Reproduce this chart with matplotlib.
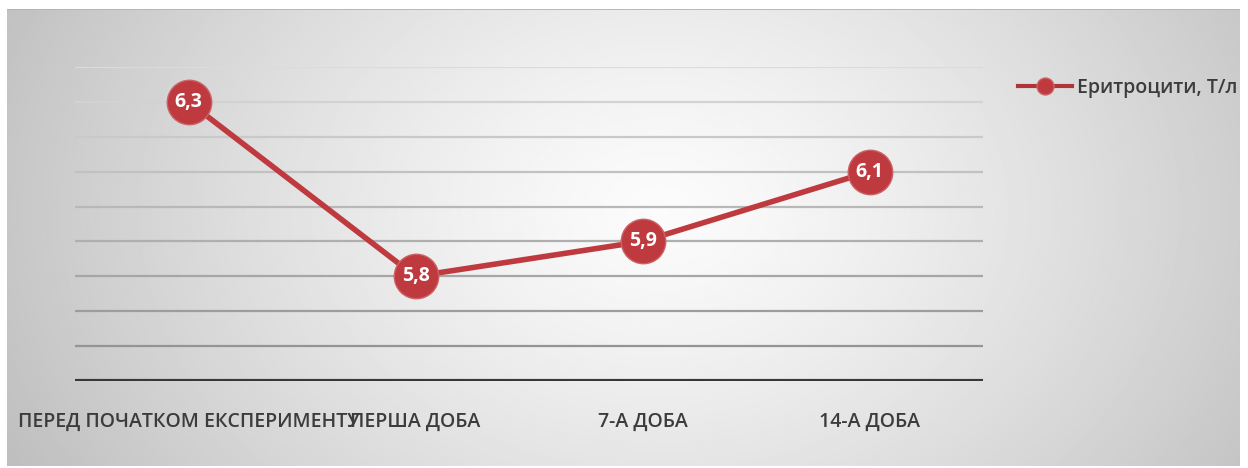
import numpy as np
import matplotlib.pyplot as plt

# Еритроцити по етапах експерименту
categories = ['ПЕРЕД ПОЧАТКОМ ЕКСПЕРИМЕНТУ', 'ПЕРША ДОБА', '7-А ДОБА', '14-А ДОБА']
values = [6.3, 5.8, 5.9, 6.1]
value_labels = ['6,3', '5,8', '5,9', '6,1']
series_name = 'Еритроцити, Т/л'

y_min, y_max, y_step = 5.5, 6.4, 0.1

W, H = 1248, 468
fig = plt.figure(figsize=(W / 100, H / 100), dpi=100, facecolor='white')

# radial grey background
bg = fig.add_axes([7 / W, 2 / H, (1240 - 7) / W, (466 - 9) / H], zorder=-5)
xx, yy = np.meshgrid(np.linspace(7, 1240, 600), np.linspace(8, 466, 240))
r = np.sqrt(((xx - 660) / 640) ** 2 + ((yy - 210) / 480) ** 2)
shade = np.clip(0.985 - 0.2 * r ** 1.3, 0, 1)
bg.imshow(shade, cmap='gray', vmin=0, vmax=1, aspect='auto', interpolation='bilinear')
bg.axhline(-0.5, color='#b0b0b0', lw=1.2)
bg.axis('off')

ax = fig.add_axes([75 / W, 1 - 381 / H, (983 - 75) / W, (381 - 67) / H])
ax.patch.set_alpha(0)
x = np.arange(len(categories))
ax.set_xlim(-0.5, len(categories) - 0.5)
ax.set_ylim(y_min, y_max)

# gridlines get darker towards the bottom
levels = np.arange(y_min + y_step, y_max + y_step / 2, y_step)
greys = np.linspace(0.58, 0.86, len(levels))
for lev, g in zip(levels, greys):
    ax.axhline(lev, color=str(g), lw=1.6, zorder=1)
ax.axhline(y_min, color='#383838', lw=3, zorder=2, solid_capstyle='round')

ax.plot(x, values, color='#be3a3f', lw=4, marker='o', markersize=32,
        markerfacecolor='#be3a3f', markeredgecolor='#cc6266', markeredgewidth=1.0,
        zorder=3, label=series_name)
for xi, v, t in zip(x, values, value_labels):
    ax.text(xi, v, t, color='white', fontsize=14, fontweight='bold',
            ha='center', va='center', zorder=4, family=['Open Sans', 'DejaVu Sans'])

for s in ax.spines.values():
    s.set_visible(False)
ax.set_yticks([])
ax.set_xticks(x)
ax.set_xticklabels(categories, fontsize=14, color='#3c3c3c', fontweight='semibold',
                   family=['Open Sans', 'DejaVu Sans'])
ax.tick_params(axis='x', length=0, pad=22)

leg = ax.legend(loc='upper left', bbox_to_anchor=(1000 / W, 1 - 60 / H),
                bbox_transform=fig.transFigure, frameon=False, handlelength=2.8,
                handletextpad=0.25, markerscale=0.38,
                prop={'family': ['Open Sans', 'DejaVu Sans'], 'size': 14,
                      'weight': 'semibold'})
for t in leg.get_texts():
    t.set_color('#3c3c3c')
for h in leg.legend_handles:
    h.set_linewidth(3)
    h.set_color('#b0353a')

fig.savefig('out.png', dpi=100)
